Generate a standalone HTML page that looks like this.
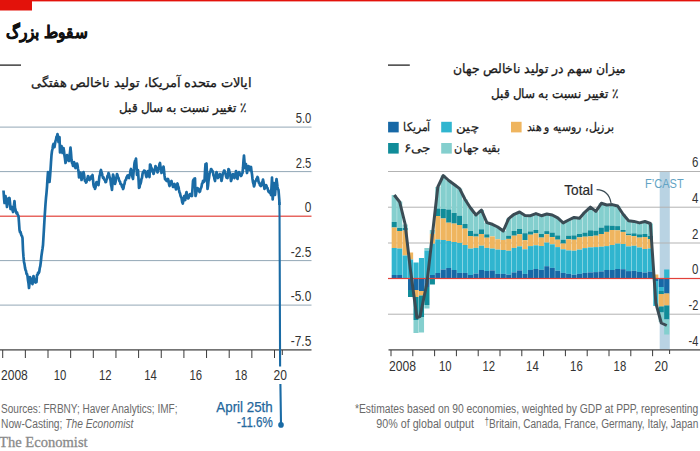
<!DOCTYPE html>
<html lang="fa"><head><meta charset="utf-8"><title>سقوط بزرگ</title>
<style>
html,body{margin:0;padding:0;background:#fff;}
body{width:700px;height:451px;overflow:hidden;}
svg{display:block;}
text{font-family:"Liberation Sans",sans-serif;}
.ax{font-size:14.6px;fill:#333;}
.src{font-size:12.3px;fill:#6a6a6a;}
.fa{font-size:13px;fill:#1a1a1a;stroke:#1a1a1a;stroke-width:0.3px;}
.lg{font-size:12px;fill:#1a1a1a;stroke:#1a1a1a;stroke-width:0.25px;}
.ser{font-family:"Liberation Serif",serif;}
</style></head><body>
<svg width="700" height="451" viewBox="0 0 700 451">
<rect width="700" height="451" fill="#ffffff"/>
<rect x="0" y="0" width="700" height="1.4" fill="#e3120b"/>
<rect x="0" y="0" width="32" height="10.5" fill="#e3120b"/>
<text x="87.2" y="38.2" direction="rtl" text-anchor="start" font-size="17" font-weight="bold" fill="#111" stroke="#111" stroke-width="0.5" textLength="81" lengthAdjust="spacingAndGlyphs">سقوط بزرگ</text>
<rect x="0" y="64.5" width="21" height="1.2" fill="#111"/>
<text class="fa" x="251.8" y="87" direction="rtl" text-anchor="start" textLength="221" lengthAdjust="spacingAndGlyphs">ایالات متحده آمریکا، تولید ناخالص هفتگی</text>
<text class="fa" x="246" y="111.6" direction="rtl" text-anchor="start" textLength="127" lengthAdjust="spacingAndGlyphs">٪ تغییر نسبت به سال قبل</text>
<rect x="0" y="126.6" width="311.5" height="1" fill="#93a8b6"/>
<rect x="0" y="171.1" width="311.5" height="1" fill="#93a8b6"/>
<rect x="0" y="260.1" width="311.5" height="1" fill="#93a8b6"/>
<rect x="0" y="304.6" width="311.5" height="1" fill="#93a8b6"/>
<rect x="0" y="215.6" width="311.5" height="1.2" fill="#e2413a"/>
<text class="ax" x="311.3" y="123.2" text-anchor="end" textLength="15.6" lengthAdjust="spacingAndGlyphs">5.0</text>
<text class="ax" x="311.3" y="167.7" text-anchor="end" textLength="15.6" lengthAdjust="spacingAndGlyphs">2.5</text>
<text class="ax" x="311.3" y="256.7" text-anchor="end" textLength="20.5" lengthAdjust="spacingAndGlyphs">-2.5</text>
<text class="ax" x="311.3" y="301.2" text-anchor="end" textLength="20.5" lengthAdjust="spacingAndGlyphs">-5.0</text>
<text class="ax" x="311.3" y="212.3" text-anchor="end" textLength="6.6" lengthAdjust="spacingAndGlyphs">0</text>
<text class="ax" x="311.3" y="346" text-anchor="end" textLength="20.5" lengthAdjust="spacingAndGlyphs">-7.5</text>
<rect x="0" y="349.3" width="311.5" height="1.2" fill="#3a3a3a"/>
<rect x="2.2" y="350" width="1" height="8" fill="#3a3a3a"/>
<rect x="24.85" y="350" width="1" height="8" fill="#3a3a3a"/>
<rect x="47.5" y="350" width="1" height="8" fill="#3a3a3a"/>
<rect x="70.15" y="350" width="1" height="8" fill="#3a3a3a"/>
<rect x="92.8" y="350" width="1" height="8" fill="#3a3a3a"/>
<rect x="115.45" y="350" width="1" height="8" fill="#3a3a3a"/>
<rect x="138.1" y="350" width="1" height="8" fill="#3a3a3a"/>
<rect x="160.75" y="350" width="1" height="8" fill="#3a3a3a"/>
<rect x="183.4" y="350" width="1" height="8" fill="#3a3a3a"/>
<rect x="206.05" y="350" width="1" height="8" fill="#3a3a3a"/>
<rect x="228.7" y="350" width="1" height="8" fill="#3a3a3a"/>
<rect x="251.35" y="350" width="1" height="8" fill="#3a3a3a"/>
<rect x="274" y="350" width="1" height="8" fill="#3a3a3a"/>
<rect x="281.8" y="350" width="1" height="5" fill="#3a3a3a"/>
<text class="ax" x="14.4" y="380" text-anchor="middle" textLength="26.8" lengthAdjust="spacingAndGlyphs">2008</text>
<text class="ax" x="60" y="380" text-anchor="middle" textLength="12.6" lengthAdjust="spacingAndGlyphs">10</text>
<text class="ax" x="105.2" y="380" text-anchor="middle" textLength="12.6" lengthAdjust="spacingAndGlyphs">12</text>
<text class="ax" x="150.5" y="380" text-anchor="middle" textLength="12.6" lengthAdjust="spacingAndGlyphs">14</text>
<text class="ax" x="195.8" y="380" text-anchor="middle" textLength="12.6" lengthAdjust="spacingAndGlyphs">16</text>
<text class="ax" x="241.1" y="380" text-anchor="middle" textLength="12.6" lengthAdjust="spacingAndGlyphs">18</text>
<text class="ax" x="280.3" y="380" text-anchor="middle" textLength="13.4" lengthAdjust="spacingAndGlyphs">20</text>
<path d="M3.5 190.5 L4 197.65 L4.5 203 L5 199 L5.5 196 L6 199.96 L6.5 202.59 L7 207 L7.5 203.84 L8 199 L8.5 198.3 L9 198.72 L9.5 198 L10 202.64 L10.5 209 L11 209.04 L11.5 207.38 L12 207 L12.5 210.04 L13 212 L13.5 207.43 L14 205.22 L14.5 201 L15 208 L15.5 209.72 L16 212 L16.5 213.36 L17 212.47 L17.5 214 L18 215.4 L18.5 216 L19 222.64 L19.5 230 L20 232.16 L20.5 231.92 L21 234 L21.5 235.63 L22 236.17 L22.5 238 L23 250 L23.5 256.9 L24 262 L24.5 264.07 L25 267.6 L25.5 270 L26 270.85 L26.5 273.88 L27 274.06 L27.5 276 L28 280.33 L28.5 283.2 L29 288 L29.5 283.29 L30 277 L30.5 278.08 L31 280.25 L31.5 280.32 L32 283.24 L32.5 284 L33 279.73 L33.5 276 L34 278.61 L34.5 279.11 L35 282 L35.5 282.48 L36 281.7 L36.5 282 L37 275 L37.55 275.01 L38.1 272.68 L38.65 273.1 L39.2 272 L39.73 268.26 L40.27 266.2 L40.8 262 L41.4 256.31 L42 252 L42.5 248.78 L43 245 L43.9 230 L44.7 216 L45.5 204 L46 197.94 L46.5 193 L47 186.9 L47.5 178.47 L48 172 L48.5 175.62 L49 177.95 L49.5 182 L50 176.85 L50.5 170 L51 162.12 L51.5 155 L52 151 L52.5 149.04 L53 145.49 L53.5 144 L54 146.23 L54.5 147 L55 143.71 L55.5 141 L56 139.76 L56.5 136.6 L57 136.33 L57.5 134 L58 137.73 L58.5 142 L59 140.17 L59.5 137 L60 152.5 L60.5 149.46 L61 148.59 L61.5 146 L62 149.16 L62.5 153 L63 151.31 L63.5 148 L64 150.98 L64.5 155.81 L65 158.78 L65.5 163 L66 161.22 L66.5 157.04 L67 155 L67.5 156.77 L68 157.37 L68.5 160.39 L69 161 L69.5 156.04 L70 152.31 L70.5 147.5 L71 152.97 L71.5 160 L72 162.81 L72.5 163.66 L73 166 L73.5 164.43 L74 162 L74.5 163.12 L75 166.67 L75.5 168 L76 166.23 L76.5 165.58 L77 163.5 L77.5 165.1 L78 169.01 L78.5 171 L79 177.5 L79.5 175.54 L80 174.9 L80.5 172.5 L81 175.41 L81.5 180 L82 178.37 L82.5 175.61 L83 174.85 L83.5 172 L84 174.29 L84.5 178.28 L85 181 L85.5 180.8 L86 182.57 L86.5 182 L87 179.45 L87.5 178.28 L88 176 L88.5 176.64 L89 179.53 L89.5 180 L90 178.93 L90.5 179.02 L91 178 L91.5 176.17 L92 176.76 L92.5 175 L93 179.7 L93.5 185 L94 186.82 L94.5 186.77 L95 189 L95.5 187.27 L96 184.06 L96.5 182 L97 183.4 L97.5 182.62 L98 184.69 L98.5 185 L99 180.18 L99.5 176 L100 174.79 L100.5 171.21 L101 170 L101.5 172.32 L102 173.56 L102.5 176 L103 177.88 L103.5 177.35 L104 179 L104.5 180.02 L105 179.9 L105.5 182.14 L106 182 L106.5 179.71 L107 178.7 L107.5 175.84 L108 175.63 L108.5 173 L109 174.31 L109.5 176.74 L110 178 L110.5 180.14 L111 184.69 L111.5 186.72 L112 190 L112.5 182.81 L113 174.5 L113.5 175.98 L114 179.78 L114.5 181.34 L115 184 L115.5 182.21 L116 178.15 L116.5 176.89 L117 174 L117.5 175.13 L118 177.84 L118.5 177.76 L119 180 L119.5 181.29 L120 181.49 L120.5 183.9 L121 184 L121.5 184.67 L122 186.77 L122.5 187.08 L123 189 L123.5 188.07 L124 184.97 L124.5 183.94 L125 180.99 L125.5 180 L126 179.65 L126.5 177.44 L127 177.09 L127.5 175.5 L128 175.44 L128.5 177.79 L129 178 L129.5 175.48 L130 174.12 L130.5 170.36 L131 169 L131.5 171.97 L132 173.69 L132.5 177.27 L133 179 L133.5 172.86 L134 168.67 L134.5 163 L135 161.08 L135.5 160.87 L136 158.5 L136.5 166.08 L137 175 L137.5 172.77 L138 170 L138.5 178.42 L139 188 L139.5 187.4 L140 184.49 L140.5 183.79 L141 182 L141.5 178.77 L142 177.84 L142.5 174.13 L143 172 L143.5 172.13 L144 170.65 L144.5 171.97 L145 171 L145.5 172.72 L146 175.53 L146.5 177 L147 174.1 L147.5 173.56 L148 171 L148.5 172.72 L149 175.69 L149.5 177 L150 164.5 L150.5 164.8 L151 167.24 L151.5 168 L152 169.15 L152.5 171.82 L153 171.74 L153.5 174 L154 172.3 L154.5 169.52 L155 168.89 L155.5 166 L156 167.02 L156.5 169.52 L157 170.23 L157.5 172.5 L158 171.48 L158.5 168.25 L159 167.12 L159.5 164.11 L160 163 L160.5 167.13 L161 169.34 L161.5 173 L162 171.82 L162.5 168.87 L163 168.78 L163.5 166.5 L164 170.4 L164.5 175.43 L165 179 L165.5 178.6 L166 180.49 L166.5 180.2 L167 181 L167.5 180.75 L168 179 L168.5 180.5 L169 184.02 L169.5 186 L170 184.35 L170.5 184.36 L171 181.55 L171.5 181 L172 183.28 L172.5 184.45 L173 187 L173.5 186.9 L174 184.46 L174.5 184 L175 186.12 L175.5 186.96 L176 189.5 L176.5 188.36 L177 185.11 L177.5 183.5 L178 186.03 L178.5 187 L179 190 L179.5 192.49 L180 193.21 L180.5 195.75 L181 197 L181.6 198.27 L182.2 201.92 L182.8 203.5 L183.5 199.48 L184.2 196 L184.7 198.67 L185.2 200 L185.85 195.12 L186.5 192 L187 194.6 L187.5 196 L188 198.5 L188.5 198.18 L189 195.47 L189.5 195.44 L190 194 L190.5 194.04 L191 195.89 L191.5 194.87 L192 196 L192.5 188.77 L193 181 L193.5 179.76 L194 180.64 L194.5 178.65 L195 178.5 L195.5 196 L196 194.31 L196.5 191.23 L197 190.81 L197.5 188 L198 188.66 L198.5 190.42 L199 190.13 L199.5 192 L200 191.34 L200.5 189.06 L201 188 L201.5 186.82 L202 183.6 L202.5 183.27 L203 181 L203.5 180.71 L204 181.73 L204.5 181 L205 171.66 L205.5 164 L206 164.12 L206.5 163.5 L207 175.87 L207.5 189 L208 186.1 L208.5 180.78 L209 178.04 L209.5 174 L210 171.81 L210.5 171.57 L211 169 L211.5 169.31 L212 171.03 L212.5 170.94 L213 172.5 L213.5 175.49 L214 176.34 L214.5 179.22 L215 181 L215.5 177.18 L216 175.76 L216.5 172 L217 173.7 L217.5 176.48 L218 178 L218.5 176.11 L219 176.61 L219.5 174.73 L220 174 L220.5 176.97 L221 177.78 L221.5 181 L222 178.79 L222.5 175.35 L223 173 L223.5 172.95 L224 170.53 L224.5 170.5 L225 172.66 L225.5 173.73 L226 176 L226.5 177.55 L227 176.68 L227.5 178 L228 173.77 L228.5 169 L229 169.74 L229.5 172.56 L230 173 L230.5 176.5 L231 181 L231.5 179.55 L232 176.75 L232.5 176.58 L233 174 L233.5 174.98 L234 177.06 L234.5 178 L235 174.81 L235.5 174.04 L236 171 L236.5 173.39 L237 176.88 L237.5 179 L238 175.77 L238.5 174.88 L239 172 L239.5 172.72 L240 174.71 L240.5 174.14 L241 176 L241.5 175.39 L242 173.64 L242.5 173 L243 168 L243.5 160.59 L244 155.5 L244.5 162.04 L245 168 L245.5 165.5 L246 164 L246.5 169.4 L247 173 L247.5 170.08 L248 168.61 L248.5 166 L249 166.67 L249.5 169.54 L250 170 L250.5 168.07 L251 167 L251.5 171.33 L252 174.2 L252.5 179 L253 182.28 L253.5 183.68 L254 186.5 L254.5 185.12 L255 181.95 L255.5 181 L256 180.64 L256.5 178.73 L257 178.62 L257.5 177 L258 178.11 L258.5 181.48 L259 183 L259.5 183.44 L260 185.27 L260.5 184.43 L261 186 L261.5 184.72 L262 182.33 L262.5 181.99 L263 179.5 L263.5 181.99 L264 186.11 L264.5 189 L265 187.1 L265.5 187.23 L266 185 L266.5 185.73 L267 187.79 L267.5 188.02 L268 190 L268.5 191.6 L269 191.12 L269.5 192.63 L270 193 L270.5 193.15 L271 195 L271.5 186.98 L272 177.5 L272.7 199.5 L273.35 190.96 L274 183 L274.5 189.52 L275 195 L275.5 188.77 L276 184.9 L276.5 179 L277 182.72 L277.5 187 L278 189.18 L278.5 190 L279.3 200 L279.45 205" fill="none" stroke="#1a6ba5" stroke-width="2.7" stroke-linejoin="round" stroke-linecap="butt"/>
<path d="M279.4 202 L279.55 216 L280.1 366.5 M280.4 384 L281 424" fill="none" stroke="#1a6ba5" stroke-width="2.1"/>
<circle cx="281" cy="424.9" r="2.8" fill="#1a6ba5"/>
<text x="272.7" y="411.7" text-anchor="end" font-size="14.4" fill="#24679c" stroke="#24679c" stroke-width="0.25" textLength="56.4" lengthAdjust="spacingAndGlyphs">April 25th</text>
<text x="272.8" y="426.9" text-anchor="end" font-size="14.4" fill="#24679c" stroke="#24679c" stroke-width="0.25" textLength="35.8" lengthAdjust="spacingAndGlyphs">-11.6%</text>
<text class="src" x="1" y="412.6" textLength="176.5" lengthAdjust="spacingAndGlyphs">Sources: FRBNY; Haver Analytics; IMF;</text>
<text class="src" x="1" y="427.8" textLength="132.4" lengthAdjust="spacingAndGlyphs">Now-Casting; <tspan font-style="italic">The Economist</tspan></text>
<text class="ser" x="-1" y="446.8" font-size="14" fill="#8a8a8a" stroke="#8a8a8a" stroke-width="0.3" textLength="88.6" lengthAdjust="spacingAndGlyphs">The Economist</text>
<rect x="388" y="64.5" width="21.8" height="1.2" fill="#111"/>
<text class="fa" x="626" y="73.4" direction="rtl" text-anchor="start" textLength="173.5" lengthAdjust="spacingAndGlyphs">میزان سهم در تولید ناخالص جهان</text>
<text class="fa" x="618" y="98.2" direction="rtl" text-anchor="start" textLength="127" lengthAdjust="spacingAndGlyphs">٪ تغییر نسبت به سال قبل</text>
<rect x="388.1" y="121.8" width="10.6" height="10.6" fill="#1768a6"/>
<text class="lg" x="430" y="131" direction="rtl" text-anchor="start" textLength="27" lengthAdjust="spacingAndGlyphs">آمریکا</text>
<rect x="441.2" y="121.8" width="10.6" height="10.6" fill="#30b5cf"/>
<text class="lg" x="478.4" y="131" direction="rtl" text-anchor="start" textLength="22.2" lengthAdjust="spacingAndGlyphs">چین</text>
<rect x="511" y="121.8" width="10.6" height="10.6" fill="#efb55f"/>
<text class="lg" x="614" y="131" direction="rtl" text-anchor="start" textLength="87.3" lengthAdjust="spacingAndGlyphs">برزیل، روسیه و هند</text>
<rect x="388.1" y="143" width="10.6" height="10.6" fill="#108c99"/>
<text class="lg" x="430.2" y="152" direction="rtl" text-anchor="start" textLength="26" lengthAdjust="spacingAndGlyphs">جی۶</text>
<rect x="441.2" y="143" width="10.6" height="10.6" fill="#84cfce"/>
<text class="lg" x="499.8" y="152" direction="rtl" text-anchor="start" textLength="45.5" lengthAdjust="spacingAndGlyphs">بقیه جهان</text>
<rect x="659.7" y="171.2" width="10.1" height="178.2" fill="#b9d3e3"/>
<rect x="388" y="171" width="312" height="1" fill="#b3b3b3"/>
<rect x="388" y="206.7" width="312" height="1" fill="#b3b3b3"/>
<rect x="388" y="242.5" width="312" height="1" fill="#b3b3b3"/>
<rect x="388" y="313.7" width="312" height="1" fill="#b3b3b3"/>
<rect x="391.67" y="195" width="5.12" height="27" fill="#84cfce"/>
<rect x="391.67" y="222" width="5.12" height="5.5" fill="#108c99"/>
<rect x="391.67" y="227.5" width="5.12" height="20.5" fill="#efb55f"/>
<rect x="391.67" y="248" width="5.12" height="27" fill="#30b5cf"/>
<rect x="391.67" y="275" width="5.12" height="3.5" fill="#1768a6"/>
<rect x="397.12" y="201.5" width="5.12" height="26.5" fill="#84cfce"/>
<rect x="397.12" y="228" width="5.12" height="3" fill="#108c99"/>
<rect x="397.12" y="231" width="5.12" height="17.5" fill="#efb55f"/>
<rect x="397.12" y="248.5" width="5.12" height="26.5" fill="#30b5cf"/>
<rect x="397.12" y="275" width="5.12" height="3.5" fill="#1768a6"/>
<rect x="402.56" y="224.5" width="5.12" height="3.5" fill="#84cfce"/>
<rect x="402.56" y="228" width="5.12" height="2.5" fill="#108c99"/>
<rect x="402.56" y="230.5" width="5.12" height="25" fill="#efb55f"/>
<rect x="402.56" y="255.5" width="5.12" height="23" fill="#30b5cf"/>
<rect x="408.02" y="252.5" width="5.12" height="7" fill="#efb55f"/>
<rect x="408.02" y="259.5" width="5.12" height="19" fill="#30b5cf"/>
<rect x="408.02" y="278.5" width="5.12" height="11.5" fill="#1768a6"/>
<rect x="408.02" y="290" width="5.12" height="7" fill="#108c99"/>
<rect x="413.47" y="262.5" width="5.12" height="16" fill="#30b5cf"/>
<rect x="413.47" y="278.5" width="5.12" height="11.5" fill="#1768a6"/>
<rect x="413.47" y="290" width="5.12" height="7" fill="#efb55f"/>
<rect x="413.47" y="297" width="5.12" height="23" fill="#108c99"/>
<rect x="413.47" y="320" width="5.12" height="13" fill="#84cfce"/>
<rect x="418.92" y="258" width="5.12" height="20.5" fill="#30b5cf"/>
<rect x="418.92" y="278.5" width="5.12" height="12.5" fill="#1768a6"/>
<rect x="418.92" y="291" width="5.12" height="4.5" fill="#efb55f"/>
<rect x="418.92" y="295.5" width="5.12" height="21.5" fill="#108c99"/>
<rect x="418.92" y="317" width="5.12" height="15.5" fill="#84cfce"/>
<rect x="424.37" y="248" width="5.12" height="2.5" fill="#84cfce"/>
<rect x="424.37" y="250.5" width="5.12" height="28" fill="#30b5cf"/>
<rect x="424.37" y="278.5" width="5.12" height="8.5" fill="#1768a6"/>
<rect x="424.37" y="287" width="5.12" height="18" fill="#108c99"/>
<rect x="424.37" y="305" width="5.12" height="3.5" fill="#84cfce"/>
<rect x="429.81" y="230" width="5.12" height="4" fill="#84cfce"/>
<rect x="429.81" y="234" width="5.12" height="9.7" fill="#efb55f"/>
<rect x="429.81" y="243.7" width="5.12" height="31.3" fill="#30b5cf"/>
<rect x="429.81" y="275" width="5.12" height="3.5" fill="#1768a6"/>
<rect x="429.81" y="278.5" width="5.12" height="6" fill="#108c99"/>
<rect x="435.27" y="187" width="5.12" height="21.5" fill="#84cfce"/>
<rect x="435.27" y="208.5" width="5.12" height="7.5" fill="#108c99"/>
<rect x="435.27" y="216" width="5.12" height="23.5" fill="#efb55f"/>
<rect x="435.27" y="239.5" width="5.12" height="33.5" fill="#30b5cf"/>
<rect x="435.27" y="273" width="5.12" height="5.5" fill="#1768a6"/>
<rect x="440.72" y="175.5" width="5.12" height="33.5" fill="#84cfce"/>
<rect x="440.72" y="209" width="5.12" height="9.5" fill="#108c99"/>
<rect x="440.72" y="218.5" width="5.12" height="21.5" fill="#efb55f"/>
<rect x="440.72" y="240" width="5.12" height="29.5" fill="#30b5cf"/>
<rect x="440.72" y="269.5" width="5.12" height="9" fill="#1768a6"/>
<rect x="446.17" y="180.5" width="5.12" height="29" fill="#84cfce"/>
<rect x="446.17" y="209.5" width="5.12" height="13.2" fill="#108c99"/>
<rect x="446.17" y="222.7" width="5.12" height="18.3" fill="#efb55f"/>
<rect x="446.17" y="241" width="5.12" height="27" fill="#30b5cf"/>
<rect x="446.17" y="268" width="5.12" height="10.5" fill="#1768a6"/>
<rect x="451.62" y="184.5" width="5.12" height="28.5" fill="#84cfce"/>
<rect x="451.62" y="213" width="5.12" height="10.6" fill="#108c99"/>
<rect x="451.62" y="223.6" width="5.12" height="18.4" fill="#efb55f"/>
<rect x="451.62" y="242" width="5.12" height="28" fill="#30b5cf"/>
<rect x="451.62" y="270" width="5.12" height="8.5" fill="#1768a6"/>
<rect x="457.06" y="188.6" width="5.12" height="27.1" fill="#84cfce"/>
<rect x="457.06" y="215.7" width="5.12" height="9.3" fill="#108c99"/>
<rect x="457.06" y="225" width="5.12" height="17.9" fill="#efb55f"/>
<rect x="457.06" y="242.9" width="5.12" height="30" fill="#30b5cf"/>
<rect x="457.06" y="272.9" width="5.12" height="5.6" fill="#1768a6"/>
<rect x="462.52" y="199.5" width="5.12" height="24.5" fill="#84cfce"/>
<rect x="462.52" y="224" width="5.12" height="4.6" fill="#108c99"/>
<rect x="462.52" y="228.6" width="5.12" height="16.4" fill="#efb55f"/>
<rect x="462.52" y="245" width="5.12" height="27.9" fill="#30b5cf"/>
<rect x="462.52" y="272.9" width="5.12" height="5.6" fill="#1768a6"/>
<rect x="467.97" y="208" width="5.12" height="23" fill="#84cfce"/>
<rect x="467.97" y="231" width="5.12" height="5" fill="#108c99"/>
<rect x="467.97" y="236" width="5.12" height="12.6" fill="#efb55f"/>
<rect x="467.97" y="248.6" width="5.12" height="26.4" fill="#30b5cf"/>
<rect x="467.97" y="275" width="5.12" height="3.5" fill="#1768a6"/>
<rect x="473.42" y="215" width="5.12" height="18.6" fill="#84cfce"/>
<rect x="473.42" y="233.6" width="5.12" height="3" fill="#108c99"/>
<rect x="473.42" y="236.6" width="5.12" height="11.3" fill="#efb55f"/>
<rect x="473.42" y="247.9" width="5.12" height="25.7" fill="#30b5cf"/>
<rect x="473.42" y="273.6" width="5.12" height="4.9" fill="#1768a6"/>
<rect x="478.87" y="210" width="5.12" height="19.3" fill="#84cfce"/>
<rect x="478.87" y="229.3" width="5.12" height="4.7" fill="#108c99"/>
<rect x="478.87" y="234" width="5.12" height="11.7" fill="#efb55f"/>
<rect x="478.87" y="245.7" width="5.12" height="24.3" fill="#30b5cf"/>
<rect x="478.87" y="270" width="5.12" height="8.5" fill="#1768a6"/>
<rect x="484.31" y="222.6" width="5.12" height="11.7" fill="#84cfce"/>
<rect x="484.31" y="234.3" width="5.12" height="3.4" fill="#108c99"/>
<rect x="484.31" y="237.7" width="5.12" height="10.2" fill="#efb55f"/>
<rect x="484.31" y="247.9" width="5.12" height="23.1" fill="#30b5cf"/>
<rect x="484.31" y="271" width="5.12" height="7.5" fill="#1768a6"/>
<rect x="489.77" y="224.3" width="5.12" height="12.1" fill="#84cfce"/>
<rect x="489.77" y="236.4" width="5.12" height="12.2" fill="#efb55f"/>
<rect x="489.77" y="248.6" width="5.12" height="21.8" fill="#30b5cf"/>
<rect x="489.77" y="270.4" width="5.12" height="8.1" fill="#1768a6"/>
<rect x="495.22" y="227" width="5.12" height="12.3" fill="#84cfce"/>
<rect x="495.22" y="239.3" width="5.12" height="10.3" fill="#efb55f"/>
<rect x="495.22" y="249.6" width="5.12" height="24.3" fill="#30b5cf"/>
<rect x="495.22" y="273.9" width="5.12" height="4.6" fill="#1768a6"/>
<rect x="500.67" y="231" width="5.12" height="9" fill="#84cfce"/>
<rect x="500.67" y="240" width="5.12" height="10" fill="#efb55f"/>
<rect x="500.67" y="250" width="5.12" height="23.9" fill="#30b5cf"/>
<rect x="500.67" y="273.9" width="5.12" height="4.6" fill="#1768a6"/>
<rect x="506.12" y="218.6" width="5.12" height="17.1" fill="#84cfce"/>
<rect x="506.12" y="235.7" width="5.12" height="3.2" fill="#108c99"/>
<rect x="506.12" y="238.9" width="5.12" height="11.8" fill="#efb55f"/>
<rect x="506.12" y="250.7" width="5.12" height="24" fill="#30b5cf"/>
<rect x="506.12" y="274.7" width="5.12" height="3.8" fill="#1768a6"/>
<rect x="511.56" y="214.3" width="5.12" height="16.7" fill="#84cfce"/>
<rect x="511.56" y="231" width="5.12" height="4.7" fill="#108c99"/>
<rect x="511.56" y="235.7" width="5.12" height="12.2" fill="#efb55f"/>
<rect x="511.56" y="247.9" width="5.12" height="24.5" fill="#30b5cf"/>
<rect x="511.56" y="272.4" width="5.12" height="6.1" fill="#1768a6"/>
<rect x="517.01" y="212" width="5.12" height="17" fill="#84cfce"/>
<rect x="517.01" y="229" width="5.12" height="5.3" fill="#108c99"/>
<rect x="517.01" y="234.3" width="5.12" height="12.1" fill="#efb55f"/>
<rect x="517.01" y="246.4" width="5.12" height="24" fill="#30b5cf"/>
<rect x="517.01" y="270.4" width="5.12" height="8.1" fill="#1768a6"/>
<rect x="522.46" y="215.4" width="5.12" height="17.8" fill="#84cfce"/>
<rect x="522.46" y="233.2" width="5.12" height="7" fill="#108c99"/>
<rect x="522.46" y="240.2" width="5.12" height="9.1" fill="#efb55f"/>
<rect x="522.46" y="249.3" width="5.12" height="24.6" fill="#30b5cf"/>
<rect x="522.46" y="273.9" width="5.12" height="4.6" fill="#1768a6"/>
<rect x="527.91" y="215.7" width="5.12" height="15.7" fill="#84cfce"/>
<rect x="527.91" y="231.4" width="5.12" height="3.3" fill="#108c99"/>
<rect x="527.91" y="234.7" width="5.12" height="11.4" fill="#efb55f"/>
<rect x="527.91" y="246.1" width="5.12" height="23.9" fill="#30b5cf"/>
<rect x="527.91" y="270" width="5.12" height="8.5" fill="#1768a6"/>
<rect x="533.37" y="213.6" width="5.12" height="16.4" fill="#84cfce"/>
<rect x="533.37" y="230" width="5.12" height="3.4" fill="#108c99"/>
<rect x="533.37" y="233.4" width="5.12" height="11.9" fill="#efb55f"/>
<rect x="533.37" y="245.3" width="5.12" height="23.7" fill="#30b5cf"/>
<rect x="533.37" y="269" width="5.12" height="9.5" fill="#1768a6"/>
<rect x="538.81" y="215.7" width="5.12" height="18.3" fill="#84cfce"/>
<rect x="538.81" y="234" width="5.12" height="3.6" fill="#108c99"/>
<rect x="538.81" y="237.6" width="5.12" height="8.4" fill="#efb55f"/>
<rect x="538.81" y="246" width="5.12" height="23.8" fill="#30b5cf"/>
<rect x="538.81" y="269.8" width="5.12" height="8.7" fill="#1768a6"/>
<rect x="544.26" y="214" width="5.12" height="17.1" fill="#84cfce"/>
<rect x="544.26" y="231.1" width="5.12" height="3.2" fill="#108c99"/>
<rect x="544.26" y="234.3" width="5.12" height="8.3" fill="#efb55f"/>
<rect x="544.26" y="242.6" width="5.12" height="23.6" fill="#30b5cf"/>
<rect x="544.26" y="266.2" width="5.12" height="12.3" fill="#1768a6"/>
<rect x="549.71" y="215" width="5.12" height="17.6" fill="#84cfce"/>
<rect x="549.71" y="232.6" width="5.12" height="4.5" fill="#108c99"/>
<rect x="549.71" y="237.1" width="5.12" height="7.2" fill="#efb55f"/>
<rect x="549.71" y="244.3" width="5.12" height="23.6" fill="#30b5cf"/>
<rect x="549.71" y="267.9" width="5.12" height="10.6" fill="#1768a6"/>
<rect x="555.16" y="217.9" width="5.12" height="17.5" fill="#84cfce"/>
<rect x="555.16" y="235.4" width="5.12" height="4.3" fill="#108c99"/>
<rect x="555.16" y="239.7" width="5.12" height="7.4" fill="#efb55f"/>
<rect x="555.16" y="247.1" width="5.12" height="23.6" fill="#30b5cf"/>
<rect x="555.16" y="270.7" width="5.12" height="7.8" fill="#1768a6"/>
<rect x="560.62" y="222.9" width="5.12" height="16.8" fill="#84cfce"/>
<rect x="560.62" y="239.7" width="5.12" height="3.9" fill="#108c99"/>
<rect x="560.62" y="243.6" width="5.12" height="5.7" fill="#efb55f"/>
<rect x="560.62" y="249.3" width="5.12" height="23.6" fill="#30b5cf"/>
<rect x="560.62" y="272.9" width="5.12" height="5.6" fill="#1768a6"/>
<rect x="566.06" y="220" width="5.12" height="15.7" fill="#84cfce"/>
<rect x="566.06" y="235.7" width="5.12" height="3.6" fill="#108c99"/>
<rect x="566.06" y="239.3" width="5.12" height="11.1" fill="#efb55f"/>
<rect x="566.06" y="250.4" width="5.12" height="23.5" fill="#30b5cf"/>
<rect x="566.06" y="273.9" width="5.12" height="4.6" fill="#1768a6"/>
<rect x="571.51" y="217.4" width="5.12" height="18" fill="#84cfce"/>
<rect x="571.51" y="235.4" width="5.12" height="4.3" fill="#108c99"/>
<rect x="571.51" y="239.7" width="5.12" height="11" fill="#efb55f"/>
<rect x="571.51" y="250.7" width="5.12" height="24" fill="#30b5cf"/>
<rect x="571.51" y="274.7" width="5.12" height="3.8" fill="#1768a6"/>
<rect x="576.96" y="218.3" width="5.12" height="15.7" fill="#84cfce"/>
<rect x="576.96" y="234" width="5.12" height="3.4" fill="#108c99"/>
<rect x="576.96" y="237.4" width="5.12" height="12.2" fill="#efb55f"/>
<rect x="576.96" y="249.6" width="5.12" height="24.3" fill="#30b5cf"/>
<rect x="576.96" y="273.9" width="5.12" height="4.6" fill="#1768a6"/>
<rect x="582.41" y="212.1" width="5.12" height="20.5" fill="#84cfce"/>
<rect x="582.41" y="232.6" width="5.12" height="4.1" fill="#108c99"/>
<rect x="582.41" y="236.7" width="5.12" height="11.4" fill="#efb55f"/>
<rect x="582.41" y="248.1" width="5.12" height="24.8" fill="#30b5cf"/>
<rect x="582.41" y="272.9" width="5.12" height="5.6" fill="#1768a6"/>
<rect x="587.87" y="207.1" width="5.12" height="23.2" fill="#84cfce"/>
<rect x="587.87" y="230.3" width="5.12" height="6.1" fill="#108c99"/>
<rect x="587.87" y="236.4" width="5.12" height="11" fill="#efb55f"/>
<rect x="587.87" y="247.4" width="5.12" height="25" fill="#30b5cf"/>
<rect x="587.87" y="272.4" width="5.12" height="6.1" fill="#1768a6"/>
<rect x="593.31" y="211.4" width="5.12" height="19.3" fill="#84cfce"/>
<rect x="593.31" y="230.7" width="5.12" height="5" fill="#108c99"/>
<rect x="593.31" y="235.7" width="5.12" height="11.4" fill="#efb55f"/>
<rect x="593.31" y="247.1" width="5.12" height="25" fill="#30b5cf"/>
<rect x="593.31" y="272.1" width="5.12" height="6.4" fill="#1768a6"/>
<rect x="598.76" y="203.3" width="5.12" height="24.3" fill="#84cfce"/>
<rect x="598.76" y="227.6" width="5.12" height="6.4" fill="#108c99"/>
<rect x="598.76" y="234" width="5.12" height="12.7" fill="#efb55f"/>
<rect x="598.76" y="246.7" width="5.12" height="24.7" fill="#30b5cf"/>
<rect x="598.76" y="271.4" width="5.12" height="7.1" fill="#1768a6"/>
<rect x="604.21" y="205" width="5.12" height="20.4" fill="#84cfce"/>
<rect x="604.21" y="225.4" width="5.12" height="6.5" fill="#108c99"/>
<rect x="604.21" y="231.9" width="5.12" height="14.2" fill="#efb55f"/>
<rect x="604.21" y="246.1" width="5.12" height="23.9" fill="#30b5cf"/>
<rect x="604.21" y="270" width="5.12" height="8.5" fill="#1768a6"/>
<rect x="609.66" y="204.6" width="5.12" height="21.1" fill="#84cfce"/>
<rect x="609.66" y="225.7" width="5.12" height="4.3" fill="#108c99"/>
<rect x="609.66" y="230" width="5.12" height="15" fill="#efb55f"/>
<rect x="609.66" y="245" width="5.12" height="25" fill="#30b5cf"/>
<rect x="609.66" y="270" width="5.12" height="8.5" fill="#1768a6"/>
<rect x="615.12" y="206" width="5.12" height="20.1" fill="#84cfce"/>
<rect x="615.12" y="226.1" width="5.12" height="4.2" fill="#108c99"/>
<rect x="615.12" y="230.3" width="5.12" height="13.3" fill="#efb55f"/>
<rect x="615.12" y="243.6" width="5.12" height="25.4" fill="#30b5cf"/>
<rect x="615.12" y="269" width="5.12" height="9.5" fill="#1768a6"/>
<rect x="620.56" y="214.3" width="5.12" height="15.7" fill="#84cfce"/>
<rect x="620.56" y="230" width="5.12" height="1.9" fill="#108c99"/>
<rect x="620.56" y="231.9" width="5.12" height="12.1" fill="#efb55f"/>
<rect x="620.56" y="244" width="5.12" height="25.2" fill="#30b5cf"/>
<rect x="620.56" y="269.2" width="5.12" height="9.3" fill="#1768a6"/>
<rect x="626.01" y="220.7" width="5.12" height="12.9" fill="#84cfce"/>
<rect x="626.01" y="233.6" width="5.12" height="1.8" fill="#108c99"/>
<rect x="626.01" y="235.4" width="5.12" height="11" fill="#efb55f"/>
<rect x="626.01" y="246.4" width="5.12" height="24.7" fill="#30b5cf"/>
<rect x="626.01" y="271.1" width="5.12" height="7.4" fill="#1768a6"/>
<rect x="631.46" y="221.4" width="5.12" height="11.9" fill="#84cfce"/>
<rect x="631.46" y="233.3" width="5.12" height="2.8" fill="#108c99"/>
<rect x="631.46" y="236.1" width="5.12" height="9.7" fill="#efb55f"/>
<rect x="631.46" y="245.8" width="5.12" height="25" fill="#30b5cf"/>
<rect x="631.46" y="270.8" width="5.12" height="7.7" fill="#1768a6"/>
<rect x="636.91" y="222.9" width="5.12" height="11.4" fill="#84cfce"/>
<rect x="636.91" y="234.3" width="5.12" height="3.3" fill="#108c99"/>
<rect x="636.91" y="237.6" width="5.12" height="9.9" fill="#efb55f"/>
<rect x="636.91" y="247.5" width="5.12" height="24.5" fill="#30b5cf"/>
<rect x="636.91" y="272" width="5.12" height="6.5" fill="#1768a6"/>
<rect x="642.37" y="221.5" width="5.12" height="12.5" fill="#84cfce"/>
<rect x="642.37" y="234" width="5.12" height="3" fill="#108c99"/>
<rect x="642.37" y="237" width="5.12" height="12" fill="#efb55f"/>
<rect x="642.37" y="249" width="5.12" height="23.5" fill="#30b5cf"/>
<rect x="642.37" y="272.5" width="5.12" height="6" fill="#1768a6"/>
<rect x="647.82" y="223.5" width="5.12" height="12.5" fill="#84cfce"/>
<rect x="647.82" y="236" width="5.12" height="3" fill="#108c99"/>
<rect x="647.82" y="239" width="5.12" height="9.5" fill="#efb55f"/>
<rect x="647.82" y="248.5" width="5.12" height="23" fill="#30b5cf"/>
<rect x="647.82" y="271.5" width="5.12" height="7" fill="#1768a6"/>
<rect x="653.26" y="274.5" width="5.12" height="4" fill="#efb55f"/>
<rect x="653.26" y="278.5" width="5.12" height="2.5" fill="#1768a6"/>
<rect x="653.26" y="281" width="5.12" height="25" fill="#30b5cf"/>
<rect x="658.71" y="278.5" width="5.12" height="8.5" fill="#1768a6"/>
<rect x="658.71" y="287" width="5.12" height="4" fill="#30b5cf"/>
<rect x="658.71" y="291" width="5.12" height="3" fill="#108c99"/>
<rect x="658.71" y="294" width="5.12" height="12.5" fill="#efb55f"/>
<rect x="658.71" y="306.5" width="5.12" height="6" fill="#108c99"/>
<rect x="658.71" y="312.5" width="5.12" height="9.5" fill="#84cfce"/>
<rect x="664.16" y="269.5" width="5.12" height="9" fill="#30b5cf"/>
<rect x="664.16" y="278.5" width="5.12" height="15" fill="#1768a6"/>
<rect x="664.16" y="293.5" width="5.12" height="12" fill="#efb55f"/>
<rect x="664.16" y="305.5" width="5.12" height="14" fill="#108c99"/>
<rect x="664.16" y="319.5" width="5.12" height="15" fill="#84cfce"/>
<rect x="388" y="277.9" width="312" height="1.2" fill="#e2413a"/>
<path d="M394.23 195 L399.68 202 L405.12 224 L410.57 271 L416.9 317.5 L420 316.5 L426.93 283 L432.38 235 L437.82 187 L443.27 175.5 L448.73 180.5 L454.18 184.5 L459.62 188.6 L465.07 199.5 L470.52 208 L475.98 215 L481.43 210 L486.88 222.6 L492.32 224.3 L497.77 227 L503.23 231 L508.68 218.6 L514.12 214.3 L519.58 212 L525.02 215.4 L530.48 215.7 L535.92 213.6 L541.38 215.7 L546.83 214 L552.27 215 L557.73 217.9 L563.17 222.9 L568.62 220 L574.08 217.4 L579.52 218.3 L584.98 212.1 L590.42 207.1 L595.88 211.4 L601.33 203.3 L606.77 205 L612.23 204.6 L617.67 206 L623.12 214.3 L628.58 220.7 L634.02 221.4 L639.48 222.9 L644.92 221.5 L650.38 223.5 L655.83 303 L661.28 323 L666.73 325.5" fill="none" stroke="#3b4c55" stroke-width="3" stroke-linejoin="round" stroke-linecap="butt"/>
<rect x="388.5" y="349.3" width="311.5" height="1.2" fill="#3a3a3a"/>
<rect x="390.5" y="350" width="1" height="6.2" fill="#3a3a3a"/>
<rect x="412.3" y="350" width="1" height="6.2" fill="#3a3a3a"/>
<rect x="434.1" y="350" width="1" height="6.2" fill="#3a3a3a"/>
<rect x="455.9" y="350" width="1" height="6.2" fill="#3a3a3a"/>
<rect x="477.7" y="350" width="1" height="6.2" fill="#3a3a3a"/>
<rect x="499.5" y="350" width="1" height="6.2" fill="#3a3a3a"/>
<rect x="521.3" y="350" width="1" height="6.2" fill="#3a3a3a"/>
<rect x="543.1" y="350" width="1" height="6.2" fill="#3a3a3a"/>
<rect x="564.9" y="350" width="1" height="6.2" fill="#3a3a3a"/>
<rect x="586.7" y="350" width="1" height="6.2" fill="#3a3a3a"/>
<rect x="608.5" y="350" width="1" height="6.2" fill="#3a3a3a"/>
<rect x="630.3" y="350" width="1" height="6.2" fill="#3a3a3a"/>
<rect x="652.1" y="350" width="1" height="6.2" fill="#3a3a3a"/>
<rect x="669.1" y="350" width="1" height="4" fill="#3a3a3a"/>
<text class="ax" x="402.6" y="371" text-anchor="middle" textLength="27" lengthAdjust="spacingAndGlyphs">2008</text>
<text class="ax" x="445.2" y="371" text-anchor="middle" textLength="12.6" lengthAdjust="spacingAndGlyphs">10</text>
<text class="ax" x="488.8" y="371" text-anchor="middle" textLength="12.6" lengthAdjust="spacingAndGlyphs">12</text>
<text class="ax" x="532.4" y="371" text-anchor="middle" textLength="12.6" lengthAdjust="spacingAndGlyphs">14</text>
<text class="ax" x="576.4" y="371" text-anchor="middle" textLength="12.6" lengthAdjust="spacingAndGlyphs">16</text>
<text class="ax" x="619.9" y="371" text-anchor="middle" textLength="12.6" lengthAdjust="spacingAndGlyphs">18</text>
<text class="ax" x="661.2" y="371" text-anchor="middle" textLength="13.4" lengthAdjust="spacingAndGlyphs">20</text>
<text class="ax" x="698.4" y="167.2" text-anchor="end" textLength="6.4" lengthAdjust="spacingAndGlyphs">6</text>
<text class="ax" x="698.4" y="202.9" text-anchor="end" textLength="6.4" lengthAdjust="spacingAndGlyphs">4</text>
<text class="ax" x="698.4" y="238.7" text-anchor="end" textLength="6.4" lengthAdjust="spacingAndGlyphs">2</text>
<text class="ax" x="698.4" y="309.9" text-anchor="end" textLength="9.8" lengthAdjust="spacingAndGlyphs">-2</text>
<text class="ax" x="698.4" y="274.2" text-anchor="end" textLength="6.4" lengthAdjust="spacingAndGlyphs">0</text>
<text class="ax" x="698.4" y="345.6" text-anchor="end" textLength="9.8" lengthAdjust="spacingAndGlyphs">-4</text>
<text x="564.3" y="194.8" font-size="14.4" fill="#2b2b2b" stroke="#2b2b2b" stroke-width="0.2" textLength="28.8" lengthAdjust="spacingAndGlyphs">Total</text>
<path d="M596.6 189.6 C604 189.8 609.5 194 611 203" fill="none" stroke="#3b4c55" stroke-width="1.2"/>
<text x="645.1" y="188.3" font-size="13" fill="#62a3c4" textLength="38.5" lengthAdjust="spacingAndGlyphs">F’CAST</text>
<text class="src" x="698.3" y="412.6" text-anchor="end" textLength="343.3" lengthAdjust="spacingAndGlyphs">*Estimates based on 90 economies, weighted by GDP at PPP, representing</text>
<text class="src" x="474" y="427.8" text-anchor="end" textLength="97.7" lengthAdjust="spacingAndGlyphs">90% of global output</text>
<text class="src" x="698.3" y="427.8" text-anchor="end" textLength="213.8" lengthAdjust="spacingAndGlyphs"><tspan font-size="10" dy="-2.5">†</tspan><tspan dy="2.5">Britain, Canada, France, Germany, Italy, Japan</tspan></text>
</svg>
</body></html>
